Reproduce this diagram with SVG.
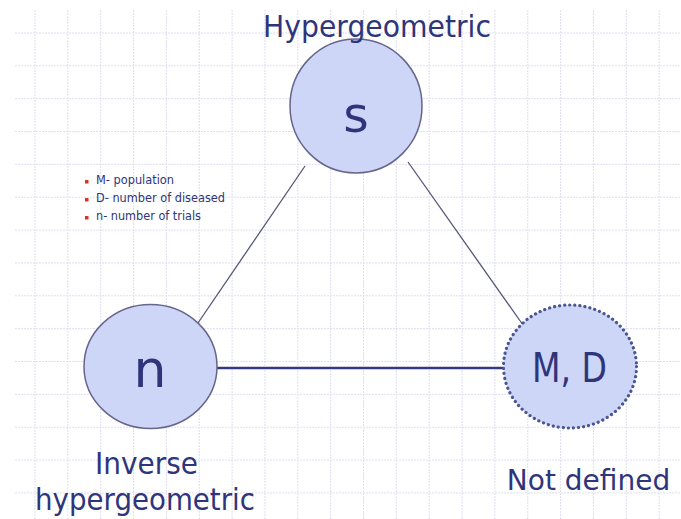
<svg xmlns="http://www.w3.org/2000/svg" width="681" height="519" viewBox="0 0 681 519">
<style>
.grid{stroke:#dedef0;stroke-width:1;stroke-dasharray:2 1;fill:none}
.node{fill:#cdd6f7;stroke:#66668c;stroke-width:1.5}
.dotted{fill:#cdd6f7;stroke:#4a5690;stroke-width:3.2;stroke-dasharray:0.1 5;stroke-linecap:round}
.edge{stroke:#55557a;stroke-width:1.3;fill:none}
.edge2{stroke:#343a80;stroke-width:2.6;fill:none}
text{font-family:"DejaVu Sans","Liberation Sans",sans-serif;fill:#2f357a}
.lg{font-size:12px}
</style>
<rect width="681" height="519" fill="#ffffff"/>
<g id="grid">
<path class="grid" d="M35 10V519M67.85 10V519M100.7 10V519M133.55 10V519M166.4 10V519M199.25 10V519M232.1 10V519M264.95 10V519M297.8 10V519M330.65 10V519M363.5 10V519M396.35 10V519M429.2 10V519M462.05 10V519M494.9 10V519M527.75 10V519M560.6 10V519M593.45 10V519M626.3 10V519M659.15 10V519"/>
<path class="grid" d="M15 33H681M15 65.85H681M15 98.7H681M15 131.55H681M15 164.4H681M15 197.25H681M15 230.1H681M15 262.95H681M15 295.8H681M15 328.65H681M15 361.5H681M15 394.35H681M15 427.2H681M15 460.05H681M15 492.9H681"/>
</g>
<g id="connectors">
<line class="edge" x1="305" y1="166" x2="198" y2="323"/>
<line class="edge" x1="408" y1="162" x2="523" y2="325"/>
<line class="edge2" x1="217" y1="368" x2="503" y2="368"/>
</g>
<g id="node-s">
<ellipse class="node" cx="356" cy="106" rx="66" ry="67"/>
<text x="356" y="132" font-size="49" text-anchor="middle">s</text>
<text x="377" y="37" font-size="30" text-anchor="middle" textLength="228" lengthAdjust="spacingAndGlyphs">Hypergeometric</text>
</g>
<g id="node-n">
<ellipse class="node" cx="150.5" cy="366.5" rx="66.5" ry="62"/>
<text x="150" y="387" font-size="52" text-anchor="middle">n</text>
<text x="146.5" y="474" font-size="30" text-anchor="middle" textLength="103" lengthAdjust="spacingAndGlyphs">Inverse</text>
<text x="145" y="510" font-size="30" text-anchor="middle" textLength="220" lengthAdjust="spacingAndGlyphs">hypergeometric</text>
</g>
<g id="node-md">
<ellipse class="dotted" cx="570" cy="366.5" rx="66.5" ry="61.5"/>
<text x="569.5" y="382" font-size="40" text-anchor="middle" textLength="75" lengthAdjust="spacingAndGlyphs">M, D</text>
<text x="588.5" y="490" font-size="28" text-anchor="middle">Not defined</text>
</g>
<g id="legend">
<rect x="85" y="180" width="3.5" height="3.5" fill="#e03020"/>
<rect x="85" y="198" width="3.5" height="3.5" fill="#e03020"/>
<rect x="85" y="216" width="3.5" height="3.5" fill="#e03020"/>
<text class="lg" x="96" y="184" textLength="78" lengthAdjust="spacingAndGlyphs">M- population</text>
<text class="lg" x="96" y="202" textLength="129" lengthAdjust="spacingAndGlyphs">D- number of diseased</text>
<text class="lg" x="96" y="220" textLength="105" lengthAdjust="spacingAndGlyphs">n- number of trials</text>
</g>
</svg>
